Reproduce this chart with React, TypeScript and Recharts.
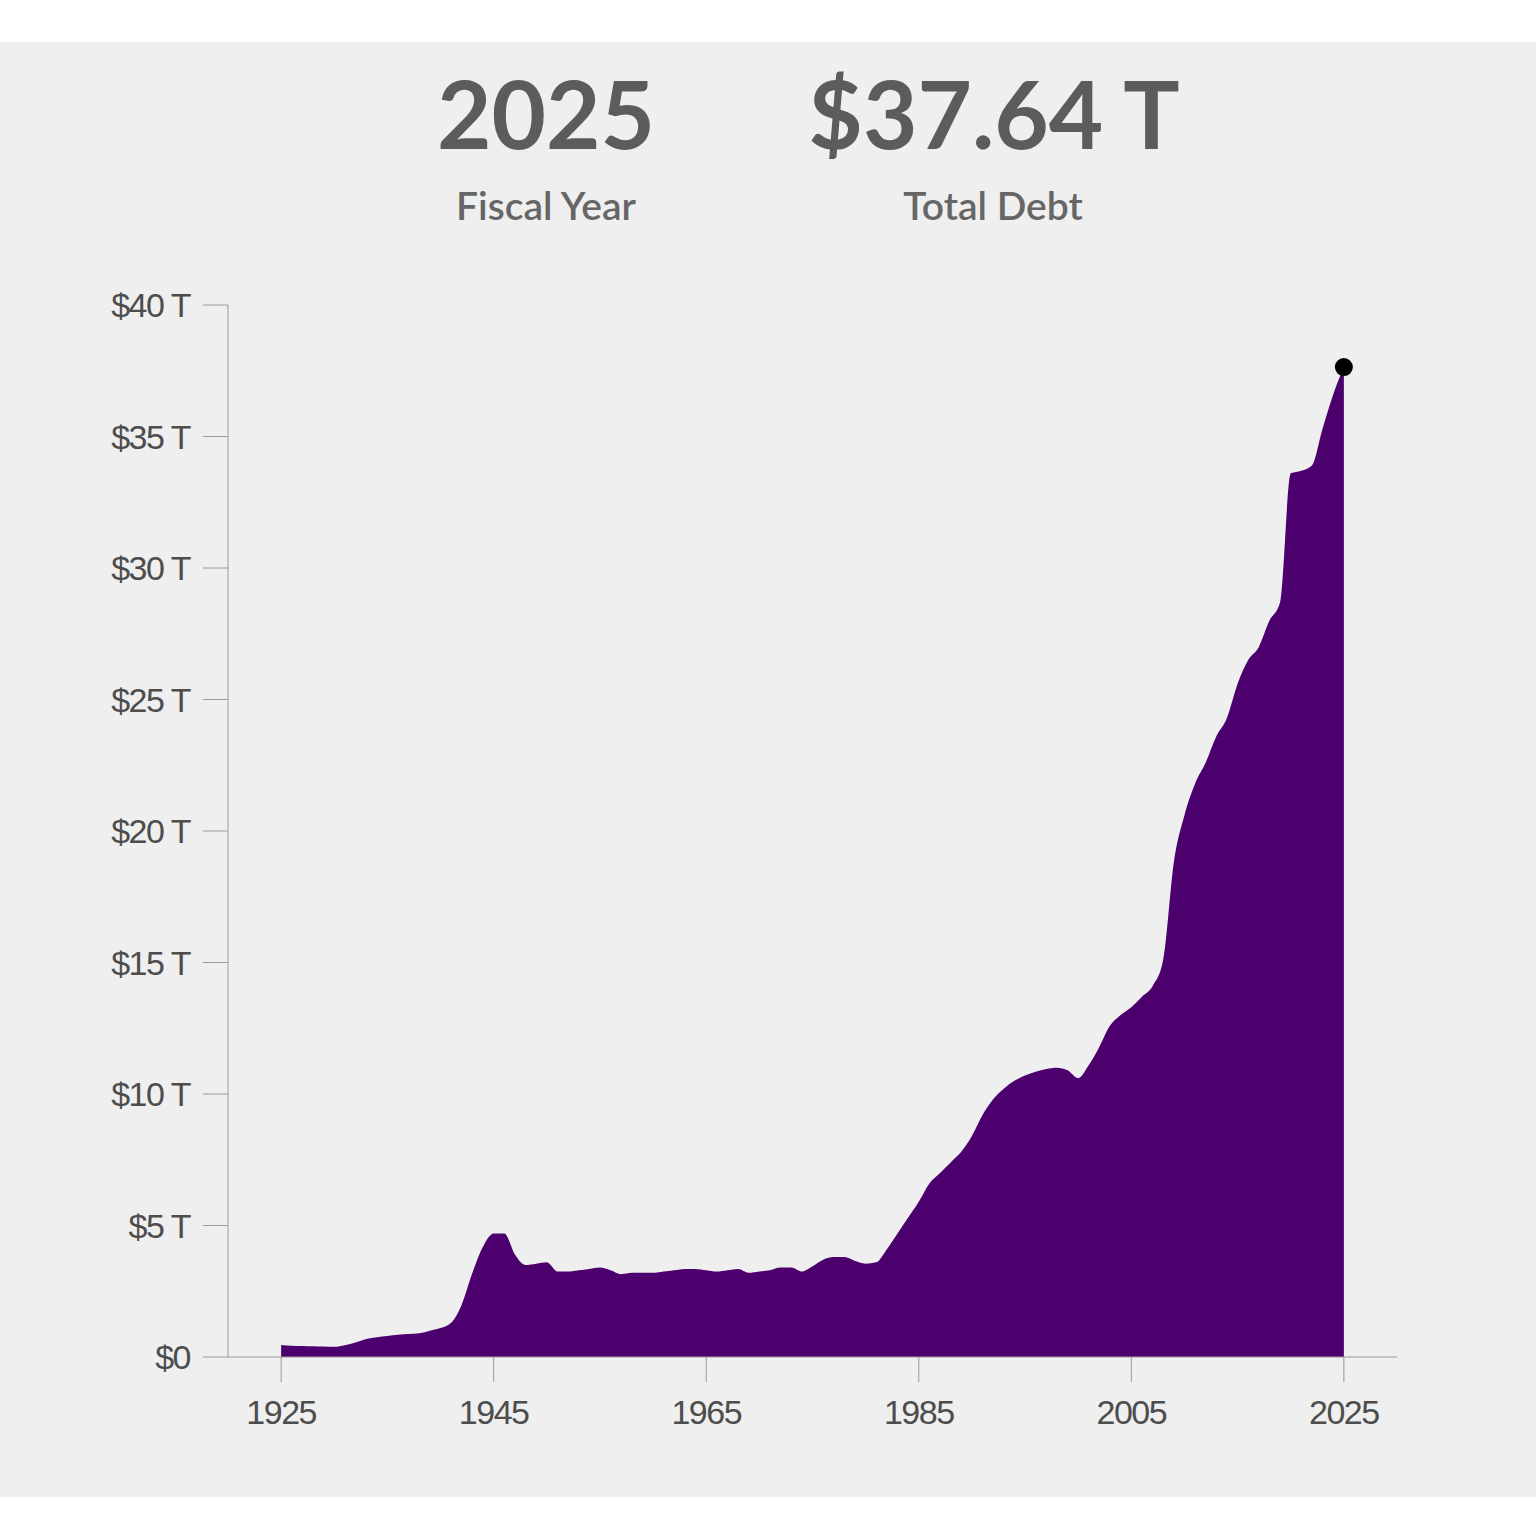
import { AreaChart, Area, XAxis, YAxis, ReferenceDot } from "recharts";

// Federal debt by fiscal year, in trillions of (inflation-adjusted) dollars,
// read off the reference picture.
const YEARS = [
  1925, 1926, 1927, 1928, 1929, 1930, 1931, 1932, 1933, 1934,
  1935, 1936, 1937, 1938, 1939, 1940, 1941, 1942, 1943, 1944,
  1945, 1946, 1947, 1948, 1949, 1950, 1951, 1952, 1953, 1954,
  1955, 1956, 1957, 1958, 1959, 1960, 1961, 1962, 1963, 1964,
  1965, 1966, 1967, 1968, 1969, 1970, 1971, 1972, 1973, 1974,
  1975, 1976, 1977, 1978, 1979, 1980, 1981, 1982, 1983, 1984,
  1985, 1986, 1987, 1988, 1989, 1990, 1991, 1992, 1993, 1994,
  1995, 1996, 1997, 1998, 1999, 2000, 2001, 2002, 2003, 2004,
  2005, 2006, 2007, 2008, 2009, 2010, 2011, 2012, 2013, 2014,
  2015, 2016, 2017, 2018, 2019, 2020, 2021, 2022, 2023, 2024,
  2025,
];

const DEBT_T = [
  0.46, 0.43, 0.42, 0.41, 0.4, 0.39, 0.45, 0.55, 0.68, 0.75,
  0.8, 0.85, 0.87, 0.9, 1.0, 1.1, 1.3, 2.0, 3.2, 4.2,
  4.7, 4.7, 3.9, 3.5, 3.55, 3.6, 3.25, 3.25, 3.3, 3.35,
  3.4, 3.3, 3.15, 3.2, 3.2, 3.2, 3.25, 3.3, 3.35, 3.35,
  3.3, 3.25, 3.3, 3.35, 3.2, 3.25, 3.3, 3.4, 3.4, 3.25,
  3.45, 3.7, 3.8, 3.8, 3.65, 3.55, 3.6, 4.1, 4.7, 5.3,
  5.9, 6.6, 7.0, 7.4, 7.8, 8.4, 9.2, 9.8, 10.2, 10.5,
  10.7, 10.85, 10.95, 11.0, 10.9, 10.6, 11.1, 11.8, 12.6, 13.0,
  13.3, 13.7, 14.1, 15.1, 18.8, 20.6, 21.8, 22.6, 23.6, 24.3,
  25.6, 26.5, 27.0, 28.0, 28.7, 33.6, 33.7, 33.9, 35.3, 36.6,
  37.64,
];

const X_TICKS = [1925, 1945, 1965, 1985, 2005, 2025];
const Y_TICKS = [0, 5, 10, 15, 20, 25, 30, 35, 40];

const PURPLE = "#4b006e";
const AXIS_GRAY = "#9a9a9a";
const TEXT_GRAY = "#4d4d4d";

const data = YEARS.map((year, i) => ({ year, debt: DEBT_T[i] }));
const lastYear = YEARS[YEARS.length - 1];
const lastDebt = DEBT_T[DEBT_T.length - 1];

const tickFont = {
  fontFamily: "'Liberation Sans', Arial, sans-serif",
  fontSize: 34,
  letterSpacing: -1.5,
  fill: TEXT_GRAY,
};

const bigNumber: React.CSSProperties = {
  position: "absolute",
  top: 66,
  width: 500,
  textAlign: "center",
  fontFamily: "Lato, 'Open Sans', sans-serif",
  fontWeight: 700,
  fontSize: 94,
  lineHeight: "94px",
  color: "#5c5c5c",
};

const caption: React.CSSProperties = {
  position: "absolute",
  top: 186,
  width: 500,
  textAlign: "center",
  fontFamily: "Lato, 'Open Sans', sans-serif",
  fontWeight: 600,
  fontSize: 39,
  lineHeight: "39px",
  color: "#666666",
};

export default function App() {
  return (
    <div
      style={{
        position: "absolute",
        left: 0,
        top: 0,
        width: 1536,
        height: 1536,
        background: "#ffffff",
        overflow: "hidden",
      }}
    >
      {/* light gray card behind the chart */}
      <div
        style={{
          position: "absolute",
          left: 0,
          top: 42,
          width: 1536,
          height: 1455,
          background: "#efefef",
        }}
      />

      <div style={{ ...bigNumber, left: 546 - 250 }}>{lastYear}</div>
      <div style={{ ...caption, left: 546 - 250 }}>Fiscal Year</div>
      <div style={{ ...bigNumber, left: 994 - 250 }}>${lastDebt.toFixed(2)} T</div>
      <div style={{ ...caption, left: 993 - 250 }}>Total Debt</div>

      <div style={{ position: "absolute", left: 0, top: 0 }}>
        <AreaChart
          width={1536}
          height={1536}
          data={data}
          margin={{ top: 305, right: 139, left: 0, bottom: 79 }}
        >
          <XAxis
            dataKey="year"
            type="number"
            domain={[1920, 2030]}
            ticks={X_TICKS}
            height={100}
            tickSize={25}
            tickMargin={18}
            stroke={AXIS_GRAY}
            tick={tickFont}
          />
          <YAxis
            type="number"
            domain={[0, 40]}
            ticks={Y_TICKS}
            width={228}
            tickSize={25}
            tickMargin={13}
            stroke={AXIS_GRAY}
            tick={tickFont}
            tickFormatter={(v: number) => (v === 0 ? "$0" : `$${v} T`)}
          />
          <Area
            type="monotone"
            dataKey="debt"
            stroke="none"
            fill={PURPLE}
            fillOpacity={1}
            dot={false}
            activeDot={false}
            isAnimationActive={false}
          />
          <ReferenceDot x={lastYear} y={lastDebt} r={9} fill="#000000" stroke="none" />
        </AreaChart>
      </div>
    </div>
  );
}
